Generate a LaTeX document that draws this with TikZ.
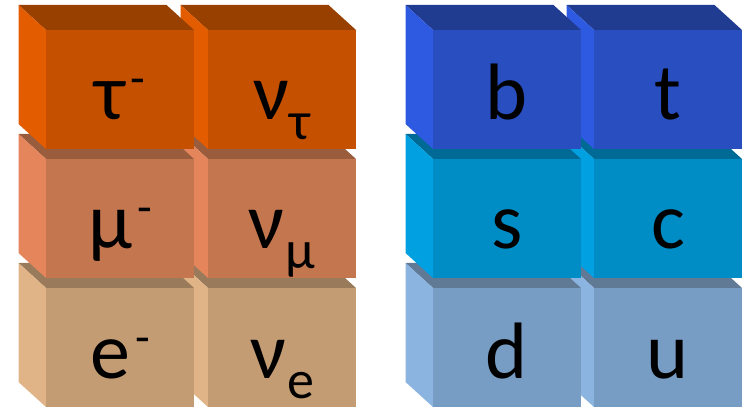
\documentclass[tikz,border=0pt]{standalone}
\usepackage{fontspec}
\setmainfont{Carlito}
\definecolor{oAf}{HTML}{C55000}\definecolor{oAl}{HTML}{E35C00}\definecolor{oAt}{HTML}{984000}
\definecolor{oBf}{HTML}{C4764F}\definecolor{oBl}{HTML}{E4855C}\definecolor{oBt}{HTML}{995C3C}
\definecolor{oCf}{HTML}{C49C74}\definecolor{oCl}{HTML}{E0B487}\definecolor{oCt}{HTML}{997A5A}
\definecolor{bAf}{HTML}{284EC0}\definecolor{bAl}{HTML}{2D5AE1}\definecolor{bAt}{HTML}{203C91}
\definecolor{bBf}{HTML}{008CC4}\definecolor{bBl}{HTML}{00A0E1}\definecolor{bBt}{HTML}{006A96}
\definecolor{bCf}{HTML}{789DC4}\definecolor{bCl}{HTML}{8CB4E1}\definecolor{bCt}{HTML}{607A96}
% #1 x, #2 y (front face top-left), #3 colour prefix, #4 node name, #5 label
\newcommand\qcube[5]{%
  \fill[#3t] (#1,#2) -- ++(-27.5,-25) -- ++(148,0) -- ++(27.5,25) -- cycle;
  \fill[#3l] (#1,#2) -- ++(-27.5,-25) -- ++(0,119) -- ++(27.5,25) -- cycle;
  \fill[#3f] (#1,#2) rectangle ++(148,119);
  \node[lbl] (#4) at ($(#1,#2)+(74,90)$) {#5};
}
\newcommand\supm{\hspace{5pt}\raisebox{25pt}{\fontsize{48}{56}\selectfont -}}
\newcommand\subx[1]{\hspace{1pt}\raisebox{-20pt}{\fontsize{54}{60}\selectfont #1}}
\usetikzlibrary{calc}
\begin{document}
\begin{tikzpicture}[x=1pt,y=-1pt,
  lbl/.style={anchor=base,inner sep=0pt,font=\fontsize{80}{96}\selectfont,text=black}]
\useasboundingbox (0,0) rectangle (748,409);
% leptons (bottom to top, right to left)
\qcube{208}{288}{oC}{nue}{ν\subx{e}}
\qcube{46}{288}{oC}{ele}{e\supm}
\qcube{208}{159}{oB}{numu}{ν\subx{μ}}
\qcube{46}{159}{oB}{muon}{μ\supm}
\qcube{208}{30}{oA}{nutau}{ν\subx{τ}}
\qcube{46}{30}{oA}{tau}{τ\supm}
% quarks
\qcube{594}{288}{bC}{qu}{u}
\qcube{433}{288}{bC}{qd}{d}
\qcube{594}{159}{bB}{qc}{c}
\qcube{433}{159}{bB}{qs}{s}
\qcube{594}{30}{bA}{qt}{t}
\qcube{433}{30}{bA}{qb}{b}
\end{tikzpicture}
\end{document}
